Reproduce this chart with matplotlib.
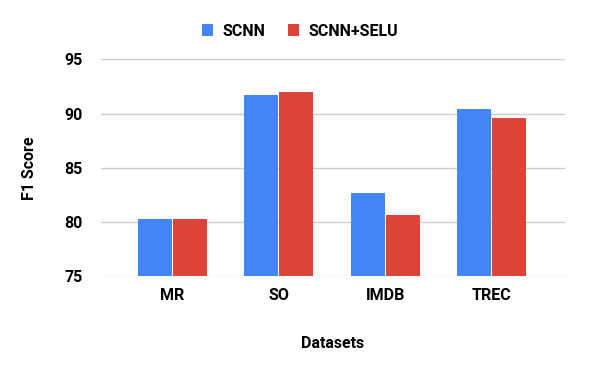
import numpy as np
import matplotlib.pyplot as plt

datasets = ["MR", "SO", "IMDB", "TREC"]
scnn = [80.3, 91.7, 82.7, 90.4]
scnn_selu = [80.3, 92.0, 80.65, 89.6]

plt.rcParams['font.family'] = ['Roboto', 'DejaVu Sans']

fig = plt.figure(figsize=(6, 3.71), dpi=100)
ax = fig.add_axes([0.168, 0.255, 0.774, 0.585])

x = np.arange(len(datasets))
w = 0.32
ax.bar(x - w / 2 - 0.005, scnn, w, color="#4285F4", label="SCNN", zorder=3)
ax.bar(x + w / 2 + 0.005, scnn_selu, w, color="#DB4437", label="SCNN+SELU", zorder=3)

ax.set_ylim(75, 95)
ax.set_yticks([75, 80, 85, 90, 95])
ax.set_xlim(-0.67, 3.69)
ax.set_xticks(x)
ax.set_xticklabels(datasets, fontweight="bold", fontsize=11.5)
for t in ax.get_yticklabels():
    t.set_fontweight("bold")
    t.set_fontsize(11.5)
ax.tick_params(length=0, pad=8)
ax.tick_params(axis="y", pad=13)
ax.grid(axis="y", color="#cccccc", linewidth=1, zorder=0)
for s in ax.spines.values():
    s.set_visible(False)

ax.set_ylabel("F1 Score", fontweight="bold", fontsize=11.5, labelpad=20)
ax.set_xlabel("Datasets", fontweight="bold", fontsize=11.5, labelpad=24)

fig.legend(loc="upper center", bbox_to_anchor=(0.5, 0.975), ncol=2, frameon=False,
           prop={"weight": "bold", "size": 11.5}, handlelength=0.7, handleheight=0.7,
           columnspacing=1.4, handletextpad=0.6)

fig.savefig("out.png")
